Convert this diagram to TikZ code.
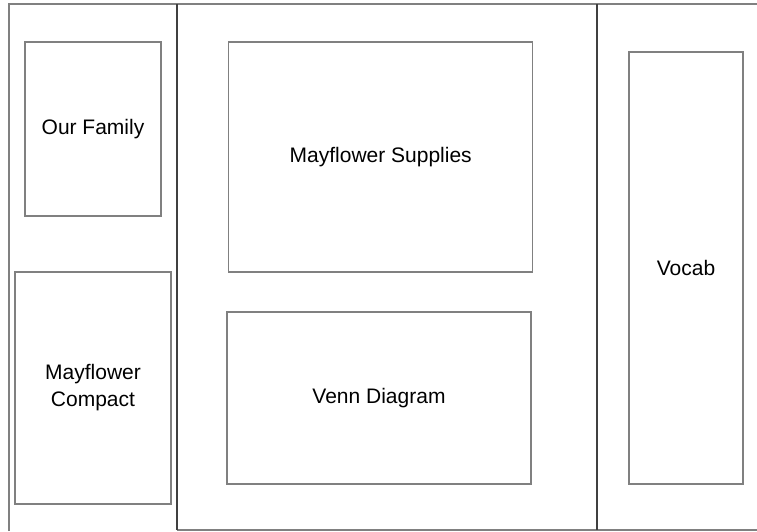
\documentclass[tikz,border=0pt]{standalone}
\usepackage{fontspec}
\setmainfont{Liberation Sans}
\begin{document}
\begin{tikzpicture}[x=1pt,y=-1pt,
  panel/.style={draw=black!50,line width=1.3pt,rectangle,inner sep=0pt,align=center,
    font=\fontsize{21}{27}\selectfont},
  frame/.style={draw=black!50,line width=1.3pt},
  divider/.style={draw=black!75,line width=1.3pt}]
\useasboundingbox (0,0) rectangle (757,531);
\draw[frame] (9,531) -- (9,4) -- (757,4);
\draw[frame] (177,530) -- (757,530);
\draw[divider] (177,4) -- (177,530);
\draw[divider] (597,4) -- (597,530);
\node[panel,minimum width=136pt,minimum height=174pt] (family) at (93,129) {Our Family};
\node[panel,minimum width=156pt,minimum height=232pt] (compact) at (93,388) {Mayflower\\Compact};
\node[panel,minimum width=304pt,minimum height=230pt] (supplies) at (380.7,157) {Mayflower Supplies};
\node[panel,minimum width=304pt,minimum height=172pt] (venn) at (379,398) {Venn Diagram};
\node[panel,minimum width=114pt,minimum height=432pt] (vocab) at (686,268) {Vocab};
\end{tikzpicture}
\end{document}
